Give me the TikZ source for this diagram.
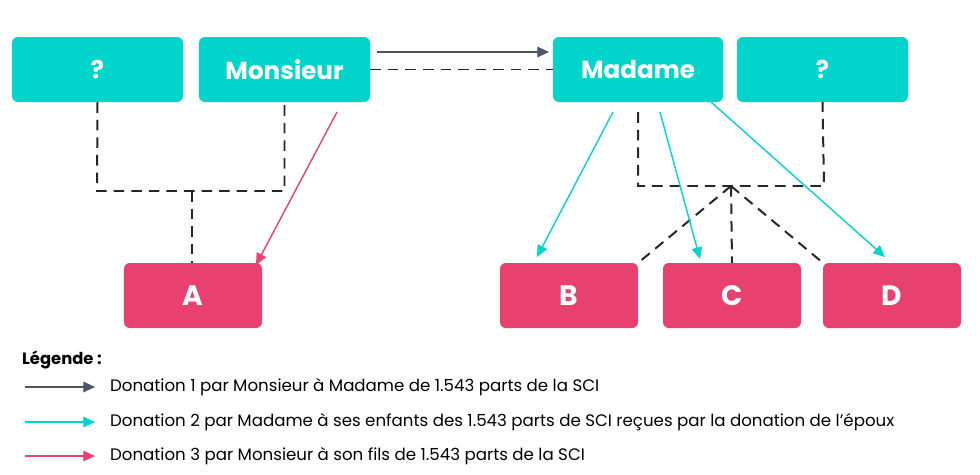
\documentclass[tikz,border=0pt]{standalone}
\usepackage{fontspec}
\setmainfont{Poppins}
\usetikzlibrary{arrows.meta}
\definecolor{teal}{HTML}{00D4CB}
\definecolor{rose}{HTML}{E8406F}
\definecolor{ardoise}{HTML}{4B5563}
\tikzset{
  parent/.style={rectangle, rounded corners=5pt, fill=teal, text=white, font=\bfseries\fontsize{21}{24}\selectfont},
  enfant/.style={rectangle, rounded corners=5pt, fill=rose, text=white, font=\bfseries\fontsize{24}{28}\selectfont},
  lien/.style={line width=1.7pt, dash pattern=on 9pt off 6pt, black!85},
  don/.style={line width=1.2pt, -{Triangle[length=10pt,width=9pt]}}
}
\begin{document}
\begin{tikzpicture}[x=0.03cm, y=-0.03cm]
    \useasboundingbox (0,0) rectangle (980,474);
    % parents
    \node[parent, minimum width=5.13cm, minimum height=1.95cm] (Q1) at (97.5,69.5) {?};
    \node[parent, minimum width=5.13cm, minimum height=1.95cm] (M) at (284.5,69.5) {Monsieur};
    \node[parent, minimum width=5.1cm, minimum height=1.95cm] (Mme) at (638,69.5) {Madame};
    \node[parent, minimum width=5.13cm, minimum height=1.95cm] (Q2) at (822.5,69.5) {?};
    % enfants
    \node[enfant, minimum width=4.14cm, minimum height=1.95cm] (A) at (193,295.5) {A};
    \node[enfant, minimum width=4.14cm, minimum height=1.95cm] (B) at (569,295.5) {B};
    \node[enfant, minimum width=4.14cm, minimum height=1.95cm] (C) at (732,295.5) {C};
    \node[enfant, minimum width=4.14cm, minimum height=1.95cm] (D) at (892,295.5) {D};

    % filiation
    \coordinate (jg) at (192,191);
    \coordinate (jd) at (731,186);
    \draw[lien] (Q1.south) -- (97,191) -| (M.south);
    \draw[lien] (jg) -- (A.north -| jg);
    \draw[lien] (Mme.south) ++(0,10) |- (824,186) -- (Q2.south);
    \draw[lien] (jd) -- (B.north east);
    \draw[lien] (jd) -- (C.north);
    \draw[lien] (jd) -- (D.north west);
    \draw[lien] (M.east) -- (Mme.west);

    % donations
    \draw[don, ardoise] (377,52) -- (549,52);
    \draw[don, teal] (613,112) -- (537,257);
    \draw[don, teal] (660,112) -- (700,259);
    \draw[don, teal] (711,102) -- (885,257);
    \draw[don, rose] (337,112) -- (256,265);

    % legende
    \node[anchor=west, font=\bfseries\fontsize{14}{16}\selectfont] (leg) at (18,360) {Légende :};
    \foreach \y/\c/\t in {387/ardoise/Donation 1 par Monsieur à Madame de 1.543 parts de la SCI,
                          422/teal/Donation 2 par Madame à ses enfants des 1.543 parts de SCI reçues par la donation de l’époux,
                          456/rose/Donation 3 par Monsieur à son fils de 1.543 parts de la SCI} {
        \coordinate (s\y) at (25,\y);
        \coordinate (e\y) at (95,\y);
        \node[anchor=west, font=\fontsize{14.2}{16}\selectfont] (t\y) at (106,\y) {\t};
        \draw[don, \c] (s\y) -- (e\y);
    }
\end{tikzpicture}
\end{document}
